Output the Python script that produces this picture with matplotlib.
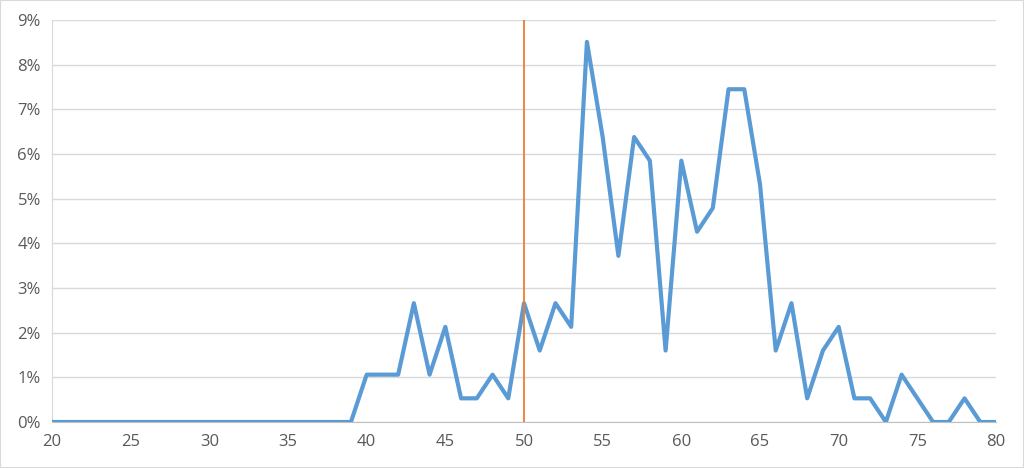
import matplotlib
matplotlib.use("Agg")
import matplotlib.pyplot as plt
from matplotlib.ticker import FuncFormatter

ages = list(range(20, 81))
pct = [0.0] * 20 + [
    1.06, 1.06, 1.06, 2.66, 1.06, 2.13, 0.53, 0.53, 1.06, 0.53,   # 40-49
    2.66, 1.60, 2.66, 2.13, 8.51, 6.38, 3.72, 6.38, 5.85, 1.60,   # 50-59
    5.85, 4.26, 4.79, 7.45, 7.45, 5.32, 1.60, 2.66, 0.53, 1.60,   # 60-69
    2.13, 0.53, 0.53, 0.00, 1.06, 0.53, 0.00, 0.00, 0.53, 0.00,   # 70-79
    0.00,                                                         # 80
]
marker_x = 50
x_ticks = list(range(20, 81, 5))
y_ticks = list(range(0, 10))

plt.rcParams['font.family'] = ['Open Sans', 'DejaVu Sans']

fig = plt.figure(figsize=(10.24, 4.68), dpi=100)
ax = fig.add_axes([52/1024, 1 - 422/468, (996-52)/1024, (422-20)/468])

ax.plot(ages, pct, color='#5B9BD5', lw=3.0, solid_joinstyle='round', zorder=3)
ax.plot([marker_x, marker_x], [0, 9], color='#ED7D31', lw=1.3, zorder=4)

ax.set_xlim(20, 80)
ax.set_ylim(0, 9)
ax.set_xticks(x_ticks)
ax.set_yticks(y_ticks)
ax.yaxis.set_major_formatter(FuncFormatter(lambda v, p: f"{int(v)}%"))
ax.grid(axis='y', color='#D9D9D9', lw=1)
ax.set_axisbelow(True)
for s in ['top', 'right']:
    ax.spines[s].set_visible(False)
ax.spines['left'].set_color('#D9D9D9')
ax.spines['bottom'].set_color('#BFBFBF')
ax.spines['bottom'].set_zorder(2)
ax.tick_params(length=0, labelsize=12, labelcolor='#595959', pad=8)
ax.tick_params(axis='x', pad=9)

fig.patches.append(plt.Rectangle((0, 0), 1, 1, transform=fig.transFigure,
                                 fill=False, edgecolor='#D9D9D9', lw=1.5))
fig.savefig('out.png', dpi=100)
